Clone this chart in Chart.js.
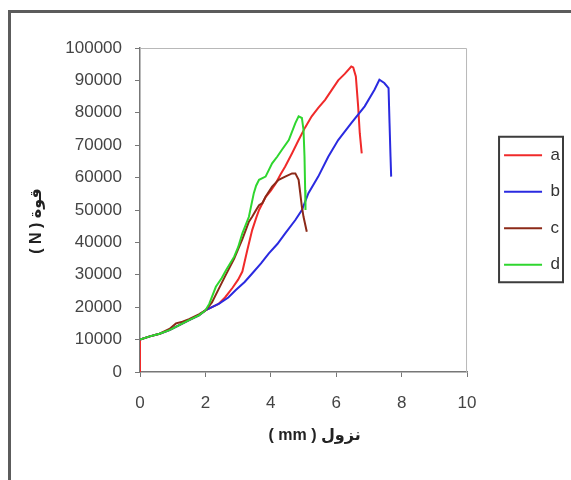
<!DOCTYPE html>
<html>
<head>
<meta charset="utf-8">
<script src="https://cdn.jsdelivr.net/npm/chart.js@4.4.1/dist/chart.umd.min.js"></script>
<style>
  html, body { margin: 0; padding: 0; background: #fff; overflow: hidden; }
  #frame { position: absolute; left: 8px; top: 10px; width: 600px; height: 520px; border: 3px solid #5c5c5c; }
  #chart { position: absolute; left: 0; top: 0; }
</style>
</head>
<body>
<div id="frame"></div>
<canvas id="chart" width="571" height="480"></canvas>
<script>
// ========== DATA ==========
const seriesNames = ['a', 'b', 'c', 'd'];

const aX = [0, 0, 0.3, 0.6, 0.9, 1.2, 1.5, 1.8, 2.0, 2.2, 2.4, 2.6, 2.83, 3.0, 3.13, 3.28, 3.43, 3.55, 3.64, 3.84, 4.0, 4.14, 4.3, 4.44, 4.65, 4.85, 5.05, 5.25, 5.45, 5.66, 5.86, 6.06, 6.26, 6.46, 6.52, 6.6, 6.67, 6.72, 6.78];
const aY = [0, 10000, 11000, 11800, 12900, 14500, 16000, 17500, 19000, 20000, 21000, 23000, 26000, 28500, 31000, 37600, 43800, 47500, 50000, 54000, 56000, 58000, 61000, 63400, 67500, 71600, 75500, 78900, 81500, 84000, 87000, 90000, 92000, 94300, 94000, 91200, 82000, 73700, 67500];

const bX = [0, 0.3, 0.6, 0.9, 1.2, 1.5, 1.8, 2.0, 2.2, 2.42, 2.7, 2.93, 3.2, 3.43, 3.7, 3.94, 4.2, 4.44, 4.75, 4.95, 5.15, 5.45, 5.76, 6.06, 6.46, 6.87, 7.17, 7.32, 7.47, 7.6, 7.63, 7.66, 7.68];
const bY = [10000, 11000, 11800, 12900, 14500, 16000, 17500, 19000, 20000, 21100, 23000, 25300, 27800, 30400, 33500, 36600, 39500, 42800, 46900, 50000, 55200, 60300, 66500, 71600, 76800, 82000, 87100, 90200, 89200, 87600, 76800, 66500, 60300];

const cX = [0, 0.3, 0.6, 0.9, 1.1, 1.3, 1.5, 1.8, 2.0, 2.2, 2.4, 2.6, 2.88, 3.13, 3.33, 3.43, 3.55, 3.64, 3.74, 3.84, 4.04, 4.24, 4.44, 4.65, 4.75, 4.85, 4.9, 4.95, 5.0, 5.1];
const cY = [10000, 11000, 11800, 13300, 15000, 15500, 16300, 17800, 19000, 21500, 25500, 29500, 35000, 41000, 46400, 47900, 50000, 51500, 52100, 54100, 57200, 59300, 60300, 61300, 61300, 59300, 55200, 51000, 47900, 43300];

const dX = [0, 0.3, 0.6, 0.9, 1.2, 1.5, 1.8, 2.0, 2.12, 2.32, 2.5, 2.63, 2.88, 3.0, 3.13, 3.33, 3.48, 3.55, 3.64, 3.84, 4.04, 4.2, 4.34, 4.55, 4.75, 4.85, 4.95, 5.0, 5.03, 5.05, 5.06];
const dY = [10000, 11000, 11800, 12900, 14500, 16000, 17500, 19000, 21100, 26300, 29000, 31400, 35600, 38500, 42800, 47900, 55200, 57500, 59300, 60300, 64400, 66500, 68600, 71600, 76800, 78900, 78400, 74700, 66500, 56200, 50000];

// spaces nudge the centred titles to where they sit in the original
const xTitle = '     ( mm ) نزول';
const yTitle = '( N ) قوة     ';

const colors = ['#f02a2a', '#2a2ae0', '#8c2a18', '#2fd62f'];

// ========== HELPERS ==========
function toPoints(xs, ys) {
  return xs.map((x, i) => ({ x, y: ys[i] }));
}

const FONT = "'Liberation Sans', 'DejaVu Sans', Arial, sans-serif";

// plot border (top/right) and legend box
const framePlugin = {
  id: 'framePlugin',
  beforeDatasetsDraw(chart) {
    const { ctx, chartArea: a } = chart;
    ctx.save();
    ctx.strokeStyle = '#b8b8b8';
    ctx.lineWidth = 1;
    ctx.beginPath();
    ctx.moveTo(a.left, a.top + 0.5);
    ctx.lineTo(a.right - 0.5, a.top + 0.5);
    ctx.lineTo(a.right - 0.5, a.bottom);
    ctx.stroke();
    ctx.restore();
  },
  afterDraw(chart) {
    const boxes = chart.legend.legendHitBoxes;
    if (!boxes || !boxes.length) return;
    const left = Math.min(...boxes.map(b => b.left)) - 5;
    const top = Math.min(...boxes.map(b => b.top)) - 10;
    const right = Math.max(...boxes.map(b => b.left + b.width)) + 3;
    const bottom = Math.max(...boxes.map(b => b.top + b.height)) + 9;
    const ctx = chart.ctx;
    ctx.save();
    ctx.strokeStyle = '#3c3c3c';
    ctx.lineWidth = 2;
    ctx.strokeRect(left, top, right - left, bottom - top);
    ctx.restore();
  }
};

// ========== CHART ==========
const allX = [aX, bX, cX, dX];
const allY = [aY, bY, cY, dY];

const datasets = seriesNames.map((name, i) => ({
  label: name,
  data: toPoints(allX[i], allY[i]),
  borderColor: colors[i],
  backgroundColor: colors[i],
  borderWidth: 2,
  pointRadius: 0,
  tension: 0,
  fill: false,
  order: seriesNames.length - i
}));

new Chart(document.getElementById('chart'), {
  type: 'line',
  data: { datasets },
  options: {
    responsive: false,
    animation: false,
    devicePixelRatio: 1,
    layout: { padding: { left: 20, top: 48, right: 1, bottom: 0 } },
    plugins: {
      tooltip: { enabled: false },
      legend: {
        position: 'right',
        fullSize: false,
        labels: {
          usePointStyle: true,
          pointStyle: 'line',
          pointStyleWidth: 38,
          padding: 19.5,
          color: '#333',
          font: { family: FONT, size: 17 },
          sort: (p, q) => p.datasetIndex - q.datasetIndex
        }
      }
    },
    scales: {
      x: {
        type: 'linear',
        min: 0,
        max: 10,
        ticks: {
          stepSize: 2,
          padding: 16,
          color: '#444',
          font: { family: FONT, size: 17 },
          callback: v => String(v)
        },
        grid: { display: true, drawOnChartArea: false, drawTicks: true, tickLength: 5, color: '#777' },
        border: { display: true, color: '#777', width: 1.5 },
        title: {
          display: true,
          text: xTitle,
          color: '#222',
          font: { family: FONT, size: 16, weight: 'bold' },
          padding: { top: 0, bottom: 35 }
        },
        afterFit(scale) { scale.height = 108; }
      },
      y: {
        type: 'linear',
        min: 0,
        max: 100000,
        ticks: {
          stepSize: 10000,
          padding: 13,
          color: '#444',
          font: { family: FONT, size: 17 },
          callback: v => String(v)
        },
        grid: { display: true, drawOnChartArea: false, drawTicks: true, tickLength: 5, color: '#777' },
        border: { display: true, color: '#777', width: 1.5 },
        title: {
          display: true,
          text: yTitle,
          color: '#222',
          font: { family: FONT, size: 16, weight: 'bold' },
          padding: { top: 7, bottom: 0 }
        },
        afterFit(scale) { scale.width = 120; }
      },
      // spacer between the plot and the legend
      y2: {
        type: 'linear',
        position: 'right',
        display: true,
        ticks: { display: false },
        grid: { display: false },
        border: { display: false },
        afterFit(scale) { scale.width = 17.5; }
      }
    }
  },
  plugins: [framePlugin]
});
</script>
</body>
</html>
